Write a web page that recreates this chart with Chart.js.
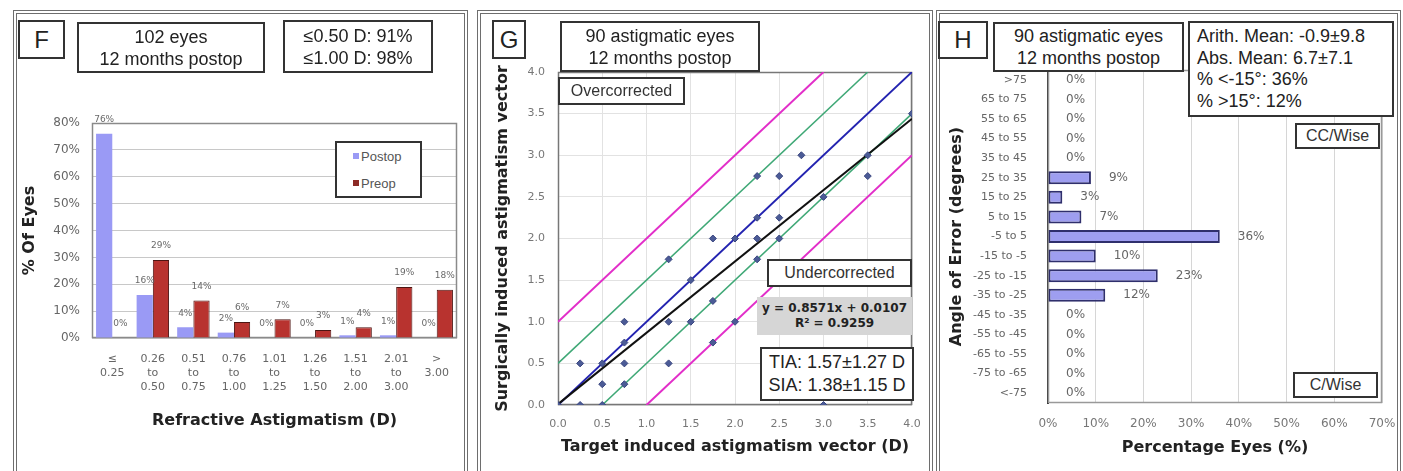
<!DOCTYPE html>
<html>
<head>
<meta charset="utf-8">
<script src="https://cdn.jsdelivr.net/npm/chart.js@4.4.1/dist/chart.umd.min.js"></script>
<style>
  html, body { margin: 0; padding: 0; background: #fff; }
  body { position: relative; width: 1403px; height: 471px; overflow: hidden;
         font-family: "Liberation Sans", Arial, sans-serif; color: #222; }
  .frame { position: absolute; top: 10px; height: 490px; border: 4px double #6e6e6e; box-sizing: border-box; }
  canvas.plot { position: absolute; top: 0; }
  .box { position: absolute; box-sizing: border-box; border: 2px solid #333; background: #fff;
         display: flex; flex-direction: column; justify-content: center; align-items: center;
         font-size: 18px; line-height: 22px; white-space: nowrap; }
  .tag { font-size: 24px; }
  .note { font-size: 16px; color: #333; }
  .left { align-items: flex-start; padding-left: 7px; }
  .eq { position: absolute; box-sizing: border-box; background: #d6d6d6; display: flex; flex-direction: column;
        justify-content: center; align-items: center; font-family: "DejaVu Sans", sans-serif;
        font-weight: bold; font-size: 12px; line-height: 15px; color: #222; white-space: nowrap; }
  .legend { position: absolute; box-sizing: border-box; border: 2px solid #333; background: #fff;
            font-size: 13px; color: #555; }
  .legend div { position: absolute; left: 16px; line-height: 14px; }
  .legend span { display: inline-block; width: 6px; height: 6px; margin-right: 2px; vertical-align: 2px; }
</style>
</head>
<body>
<div class="frame" style="left:13px; width:455px;"></div>
<div class="frame" style="left:477px; width:456px;"></div>
<div class="frame" style="left:936px; width:465px;"></div>

<canvas id="chartF" class="plot" width="470" height="471" style="left:0px;"></canvas>
<canvas id="chartG" class="plot" width="470" height="471" style="left:470px;"></canvas>
<canvas id="chartH" class="plot" width="468" height="471" style="left:935px;"></canvas>

<!-- Panel F annotations -->
<div class="box tag" style="left:18px; top:20px; width:47px; height:39px;">F</div>
<div class="box" style="left:77px; top:22px; width:188px; height:51px;"><div>102 eyes</div><div>12 months postop</div></div>
<div class="box" style="left:283px; top:20px; width:150px; height:53px;"><div>≤0.50 D: 91%</div><div>≤1.00 D: 98%</div></div>
<div class="legend" style="left:335px; top:141px; width:87px; height:57px;">
  <div style="top:7px;"><span style="background:#9a9af5"></span>Postop</div>
  <div style="top:34px;"><span style="background:#8c2a26"></span>Preop</div>
</div>

<!-- Panel G annotations -->
<div class="box tag" style="left:492px; top:20px; width:34px; height:39px;">G</div>
<div class="box" style="left:560px; top:21px; width:200px; height:51px;"><div>90 astigmatic eyes</div><div>12 months postop</div></div>
<div class="box note" style="left:558px; top:77px; width:127px; height:28px;">Overcorrected</div>
<div class="box note" style="left:767px; top:259px; width:145px; height:28px;">Undercorrected</div>
<div class="eq" style="left:757px; top:297px; width:155px; height:38px;"><div>y = 0.8571x + 0.0107</div><div>R² = 0.9259</div></div>
<div class="box" style="left:760px; top:347px; width:154px; height:54px; line-height:23px;"><div>TIA: 1.57±1.27 D</div><div>SIA: 1.38±1.15 D</div></div>

<!-- Panel H annotations -->
<div class="box tag" style="left:938px; top:21px; width:50px; height:38px;">H</div>
<div class="box" style="left:993px; top:22px; width:191px; height:50px;"><div>90 astigmatic eyes</div><div>12 months postop</div></div>
<div class="box left" style="left:1188px; top:21px; width:206px; height:96px; line-height:21.5px;">
  <div>Arith. Mean: -0.9±9.8</div><div>Abs. Mean: 6.7±7.1</div><div>% &lt;-15°: 36%</div><div>% &gt;15°: 12%</div>
</div>
<div class="box note" style="left:1295px; top:123px; width:85px; height:26px;">CC/Wise</div>
<div class="box note" style="left:1293px; top:372px; width:85px; height:26px;">C/Wise</div>

<script>
// ---- Panel F: refractive astigmatism distribution ----
const astigmatismRanges = [
  ['≤', '0.25'], ['0.26', 'to', '0.50'], ['0.51', 'to', '0.75'], ['0.76', 'to', '1.00'],
  ['1.01', 'to', '1.25'], ['1.26', 'to', '1.50'], ['1.51', 'to', '2.00'], ['2.01', 'to', '3.00'], ['>', '3.00']
];
const postopPercent = [76, 16, 4, 2, 0, 0, 1, 1, 0];
const preopPercent  = [0, 29, 14, 6, 7, 3, 4, 19, 18];

// ---- Panel G: target vs surgically induced astigmatism ----
const targetInduced = [0, 0.25, 0.5, 0.25, 0.5, 0.5, 0.75, 0.75, 0.75, 0.75, 1.25, 1.25, 1.25, 1.5, 1.5,
                       1.75, 1.75, 1.75, 2.0, 2.0, 2.25, 2.25, 2.25, 2.25, 2.5, 2.5, 2.5, 2.75, 3.0, 3.0,
                       3.5, 3.5, 4.0];
const surgicallyInduced = [0, 0, 0, 0.5, 0.25, 0.5, 0.25, 0.5, 0.75, 1.0, 0.5, 1.0, 1.75, 1.0, 1.5,
                           0.75, 1.25, 2.0, 1.0, 2.0, 1.75, 2.0, 2.25, 2.75, 2.0, 2.25, 2.75, 3.0, 0.0, 2.5,
                           2.75, 3.0, 3.5];
const regressionSlope = 0.8571;
const regressionIntercept = 0.0107;
const guideOffsets = [1, 0.5, 0, -0.5, -1];
const guideColors  = ['#e22ec9', '#3fa876', '#2323b0', '#3fa876', '#e22ec9'];
const vectorTicks  = [0, 0.5, 1, 1.5, 2, 2.5, 3, 3.5, 4];

// ---- Panel H: angle of error distribution ----
const angleBins = ['>75', '65 to 75', '55 to 65', '45 to 55', '35 to 45', '25 to 35', '15 to 25', '5 to 15',
                   '-5 to 5', '-15 to -5', '-25 to -15', '-35 to -25', '-45 to -35', '-55 to -45',
                   '-65 to -55', '-75 to -65', '<-75'];
const angleErrorPercent = [0, 0, 0, 0, 0, 9, 3, 7, 36, 10, 23, 12, 0, 0, 0, 0, 0];

const TICK_FONT = 'DejaVu Sans';
const TITLE_FONT = { family: 'DejaVu Sans', size: 16, weight: 'bold' };

// Fix an axis box to a set thickness so plot areas line up across panels.
function fixSize(px) {
  return function (scale) {
    if (scale.isHorizontal()) scale.height = px; else scale.width = px;
    scale.paddingLeft = scale.paddingRight = scale.paddingTop = scale.paddingBottom = 0;
  };
}

// Outline around the plotting area.
const plotFrame = {
  id: 'plotFrame',
  beforeDatasetsDraw(chart, args, opts) {
    const { left, top, right, bottom } = chart.chartArea;
    const ctx = chart.ctx;
    ctx.save();
    ctx.strokeStyle = opts.color || '#888';
    ctx.lineWidth = opts.width || 1;
    ctx.strokeRect(left + 0.5, top + 0.5, right - left - 1, bottom - top - 1);
    ctx.restore();
  }
};

// Percentage labels next to every bar.
const barValueLabels = {
  id: 'barValueLabels',
  afterDatasetsDraw(chart, args, opts) {
    const ctx = chart.ctx;
    const horizontal = chart.options.indexAxis === 'y';
    ctx.save();
    ctx.font = opts.font;
    ctx.fillStyle = opts.color;
    ctx.textBaseline = 'middle';
    chart.data.datasets.forEach((ds, i) => {
      chart.getDatasetMeta(i).data.forEach((el, j) => {
        const text = ds.data[j] + '%';
        if (horizontal) {
          ctx.textAlign = 'left';
          ctx.fillText(text, el.x + opts.offset, el.y);
        } else {
          ctx.textAlign = 'center';
          ctx.fillText(text, el.x, el.y - opts.offset);
        }
      });
    });
    ctx.restore();
  }
};

Chart.defaults.animation = false;
Chart.defaults.devicePixelRatio = 1;

// Panel F
new Chart(document.getElementById('chartF'), {
  type: 'bar',
  data: {
    labels: astigmatismRanges,
    datasets: [
      { label: 'Postop', data: postopPercent, backgroundColor: '#9a9af5', borderWidth: 0 },
      { label: 'Preop', data: preopPercent, backgroundColor: '#b8332f', borderColor: '#4d1512', borderWidth: 1 }
    ]
  },
  options: {
    responsive: false,
    layout: { padding: { left: 18, top: 123, right: 13, bottom: 38 } },
    datasets: { bar: { categoryPercentage: 0.8, barPercentage: 1 } },
    plugins: {
      legend: { display: false }, tooltip: { enabled: false },
      plotFrame: { color: '#8a8a8a', width: 1.5 },
      barValueLabels: { font: '9px "DejaVu Sans"', color: '#6a6a6a', offset: 14 }
    },
    scales: {
      x: {
        grid: { display: false }, border: { display: false },
        ticks: { color: '#666', font: { family: TICK_FONT, size: 11, lineHeight: '14px' }, padding: 6,
                 maxRotation: 0, autoSkip: false },
        title: { display: true, text: 'Refractive Astigmatism (D)', color: '#222', font: TITLE_FONT,
                 padding: { top: 0, bottom: 3 } },
        afterFit: fixSize(95)
      },
      y: {
        min: 0, max: 80,
        grid: { color: '#c8c8c8', drawTicks: false }, border: { display: false },
        ticks: { stepSize: 10, callback: v => v + '%', color: '#666', font: { family: TICK_FONT, size: 12 }, padding: 12 },
        title: { display: true, text: '% Of Eyes', color: '#222', font: TITLE_FONT, padding: { top: 2, bottom: 0 } },
        afterFit: fixSize(74)
      }
    }
  },
  plugins: [plotFrame, barValueLabels]
});

// Panel G
const guideDatasets = guideOffsets.map((d, i) => {
  const x0 = Math.max(0, -d), x1 = Math.min(4, 4 - d);
  return {
    type: 'line', label: 'y = x ' + (d >= 0 ? '+ ' : '- ') + Math.abs(d),
    data: [{ x: x0, y: x0 + d }, { x: x1, y: x1 + d }],
    borderColor: guideColors[i], borderWidth: d === 0 || Math.abs(d) === 1 ? 2 : 1.5,
    pointRadius: 0, showLine: true, fill: false
  };
});
new Chart(document.getElementById('chartG'), {
  type: 'scatter',
  data: {
    datasets: [
      { label: 'Eyes', data: targetInduced.map((x, i) => ({ x, y: surgicallyInduced[i] })),
        pointStyle: 'rectRot', pointRadius: 3.5, backgroundColor: '#4b5b96', borderColor: '#3a4680', borderWidth: 1 },
      { type: 'line', label: 'Linear fit',
        data: [0, 4].map(x => ({ x, y: regressionSlope * x + regressionIntercept })),
        borderColor: '#111', borderWidth: 2, pointRadius: 0, showLine: true, fill: false },
      ...guideDatasets
    ]
  },
  options: {
    responsive: false,
    layout: { padding: { left: 22, top: 72, right: 28, bottom: 14 } },
    plugins: { legend: { display: false }, tooltip: { enabled: false }, plotFrame: { color: '#777', width: 1.5 } },
    scales: {
      x: {
        type: 'linear', min: 0, max: 4,
        afterBuildTicks: s => { s.ticks = vectorTicks.map(v => ({ value: v })); },
        grid: { color: '#e2e2e2', drawTicks: false }, border: { display: false },
        ticks: { callback: v => v.toFixed(1), color: '#777', font: { family: TICK_FONT, size: 11 }, padding: 13 },
        title: { display: true, text: 'Target induced astigmatism vector (D)', color: '#222', font: TITLE_FONT,
                 padding: { top: 0, bottom: 1 } },
        afterFit: fixSize(52)
      },
      y: {
        type: 'linear', min: 0, max: 4,
        afterBuildTicks: s => { s.ticks = vectorTicks.map(v => ({ value: v })); },
        grid: { color: '#e2e2e2', drawTicks: false }, border: { display: false },
        ticks: { callback: v => v.toFixed(1), color: '#777', font: { family: TICK_FONT, size: 11 }, padding: 13 },
        title: { display: true, text: 'Surgically induced astigmatism vector', color: '#222', font: TITLE_FONT,
                 padding: { top: 1, bottom: 0 } },
        afterFit: fixSize(66)
      }
    }
  },
  plugins: [plotFrame]
});

// Panel H
new Chart(document.getElementById('chartH'), {
  type: 'bar',
  data: {
    labels: angleBins,
    datasets: [
      { label: 'Eyes', data: angleErrorPercent, backgroundColor: '#9e9ef0', borderColor: '#2f2f6c', borderWidth: 2,
        borderSkipped: false }
    ]
  },
  options: {
    responsive: false,
    indexAxis: 'y',
    layout: { padding: { left: 10, top: 70, right: 21, bottom: 14 } },
    datasets: { bar: { categoryPercentage: 1, barPercentage: 0.66 } },
    plugins: {
      legend: { display: false }, tooltip: { enabled: false },
      plotFrame: { color: '#999', width: 1.5 },
      barValueLabels: { font: '12px "DejaVu Sans"', color: '#666', offset: 18 }
    },
    scales: {
      x: {
        min: 0, max: 70,
        grid: { color: '#d6d6d6', drawTicks: false }, border: { display: false },
        ticks: { stepSize: 10, callback: v => v + '%', color: '#777', font: { family: TICK_FONT, size: 12 }, padding: 14 },
        title: { display: true, text: 'Percentage Eyes (%)', color: '#222', font: TITLE_FONT, padding: { top: 0, bottom: 0 } },
        afterFit: fixSize(54)
      },
      y: {
        grid: { display: false }, border: { display: true, color: '#333', width: 2 },
        ticks: { color: '#666', font: { family: TICK_FONT, size: 11 }, padding: 13, autoSkip: false },
        title: { display: true, text: 'Angle of Error (degrees)', color: '#222', font: TITLE_FONT, padding: { top: 2, bottom: 0 } },
        afterFit: fixSize(103)
      }
    }
  },
  plugins: [plotFrame, barValueLabels]
});
</script>
</body>
</html>
